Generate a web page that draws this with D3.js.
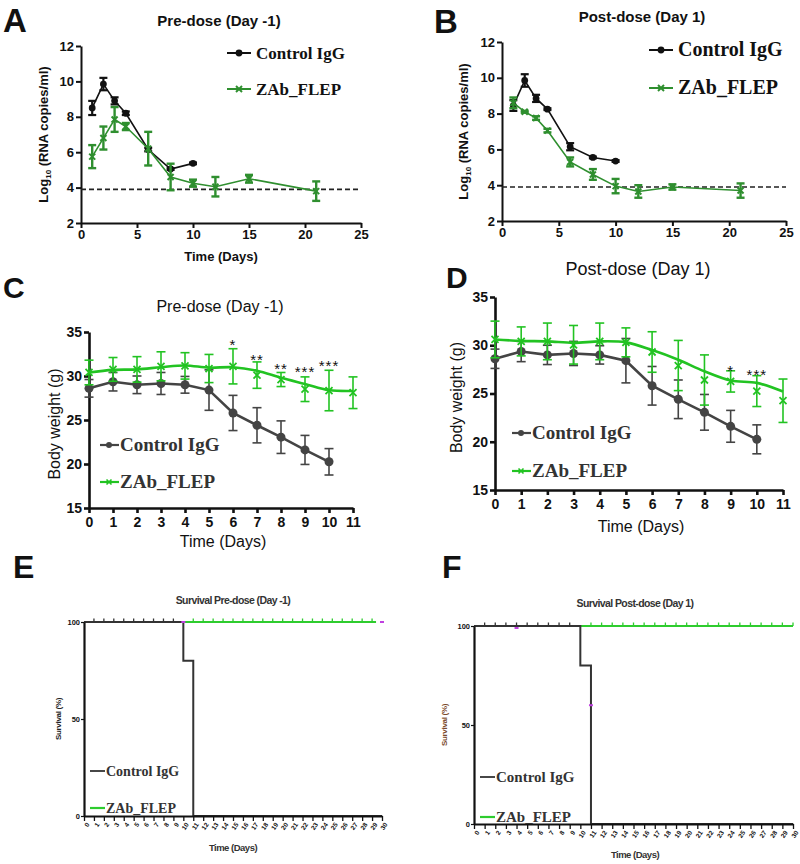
<!DOCTYPE html>
<html><head><meta charset="utf-8">
<script src="https://cdn.jsdelivr.net/npm/d3@7"></script>
<style>body{margin:0;background:#fff} svg{display:block;background:#fff} .serif{font-family:"Liberation Serif","Times New Roman","DejaVu Serif",serif !important;}</style>
</head><body><svg id="c" width="800" height="864"></svg>
<script>
// ---------- DATA ----------
// Viral load (Log10 RNA copies/ml)
const vlCtrlDays = [1, 2, 3, 4, 6, 8, 10];
const vlZabDays = [1, 2, 3, 4, 6, 8, 10, 12, 15, 21];
const vlCtrlPre = [8.5, 9.85, 8.9, 8.2, 6.15, 5.05, 5.37];
const vlCtrlPreErr = [0.4, 0.35, 0.2, 0.1, 0.1, 0.05, 0.05];
const vlZabPre = [5.75, 6.8, 7.85, 7.45, 6.2, 4.6, 4.25, 4.05, 4.5, 3.8];
const vlZabPreErr = [0.65, 0.65, 0.7, 0.2, 0.95, 0.75, 0.2, 0.55, 0.22, 0.55];
const vlCtrlPost = [8.45, 9.85, 8.85, 8.25, 6.15, 5.55, 5.35];
const vlCtrlPostErr = [0.3, 0.35, 0.2, 0.05, 0.2, 0.05, 0.05];
const vlZabPost = [8.6, 8.1, 7.75, 7.05, 5.3, 4.6, 3.95, 3.65, 3.9, 3.7];
const vlZabPostErr = [0.3, 0.05, 0.1, 0.1, 0.25, 0.3, 0.4, 0.35, 0.15, 0.4];
const vlLimit = 3.9;
const vlXTicks = [0, 5, 10, 15, 20, 25];
const vlYTicks = [2, 4, 6, 8, 10, 12];

// Body weight (g)
const bwDays = [0, 1, 2, 3, 4, 5, 6, 7, 8, 9, 10, 11];
const bwCtrlDays = [0, 1, 2, 3, 4, 5, 6, 7, 8, 9, 10];
const bwCtrl = [28.6, 29.35, 29.0, 29.15, 29.0, 28.4, 25.8, 24.4, 23.05, 21.6, 20.25];
const bwCtrlErr = [1.0, 1.05, 1.0, 1.25, 0.95, 2.3, 2.0, 2.0, 1.85, 1.65, 1.5];
const bwZabPre = [30.4, 30.75, 30.75, 31.1, 31.15, 30.85, 31.1, 30.1, 29.6, 28.5, 28.35, 28.1];
const bwZabPreErr = [1.4, 1.35, 1.45, 1.65, 1.5, 1.6, 2.0, 1.5, 0.8, 1.4, 2.3, 1.8];
const bwZabPreFit = [30.4, 30.7, 30.75, 31.0, 31.2, 30.95, 31.0, 30.6, 29.8, 29.1, 28.4, 28.3];
const bwZabPost = [30.6, 30.4, 30.4, 30.05, 30.4, 30.3, 29.3, 27.9, 26.4, 26.25, 25.25, 24.25];
const bwZabPostErr = [1.9, 1.5, 1.9, 2.0, 1.9, 1.5, 2.1, 2.6, 2.6, 1.1, 1.6, 2.25];
const bwZabPostFit = [30.6, 30.45, 30.4, 30.25, 30.4, 30.3, 29.5, 28.5, 27.3, 26.35, 26.1, 25.2];
const bwSigPreDays = [6, 7, 8, 9, 10];
const bwSigPreLabels = ["*", "**", "**", "***", "***"];
const bwSigPreY = [33.9, 32.2, 31.1, 30.75, 31.5];
const bwSigPostDays = [9, 10];
const bwSigPostLabels = ["*", "***"];
const bwSigPostY = [27.6, 27.2];
const bwYTicks = [15, 20, 25, 30, 35];

// Survival (%)
const survDays = d3.range(0, 31);
const survCtrlDays = [0, 10, 11, 30];
const survCtrlPct = [100, 80, 0, 0];
const survZabDaysE = [10, 29.4];
const survZabDaysF = [10, 30];
const survZabPct = [100, 100];
const survCtrlCensor = [1, 2, 3, 4, 5, 6, 7, 8, 9];
const survZabCensorE = [11, 12, 13, 14, 15, 16, 17, 18, 19, 20, 21, 22, 23, 24, 25, 26, 27, 28, 29];
const survZabCensorF = [11, 12, 13, 14, 15, 16, 17, 18, 19, 20, 21, 22, 23, 24, 25, 26, 27, 28, 29, 30];
const survMagentaE = [[10, 100], [30, 100]];
const survMagentaF = [[4, 99], [11, 60]];
const survYTicks = [0, 50, 100];

// ---------- DRAWING ----------
const SANS = "'Liberation Sans', Arial, sans-serif";
const svg = d3.select("#c");

function styleAxis(g, opts) {
  g.select(".domain").attr("stroke", "#111").attr("stroke-width", opts.lw);
  g.selectAll(".tick line").attr("stroke", "#111").attr("stroke-width", opts.lw);
  g.selectAll(".tick text").attr("fill", opts.color || "#111")
    .style("font-family", SANS).style("font-size", opts.fs + "px").style("font-weight", opts.fw || "bold");
}
function text(x, y, s, o) {
  const t = svg.append("text").attr("x", x).attr("y", y).text(s)
    .style("font-size", o.fs + "px")
    .style("font-weight", o.fw || "normal").attr("fill", o.fill || "#111")
    .attr("text-anchor", o.anchor || "middle");
  if (o.serif) t.attr("class", "serif"); else t.style("font-family", SANS);
  if (o.rot) t.attr("transform", `rotate(${o.rot},${x},${y})`);
  return t;
}
function xMark(g, cx, cy, s, color, w) {
  g.append("line").attr("x1", cx - s).attr("y1", cy - s).attr("x2", cx + s).attr("y2", cy + s).attr("stroke", color).attr("stroke-width", w);
  g.append("line").attr("x1", cx - s).attr("y1", cy + s).attr("x2", cx + s).attr("y2", cy - s).attr("stroke", color).attr("stroke-width", w);
}
function errBars(g, x, y, days, vals, errs, color, w, cap) {
  days.forEach((d, i) => {
    const cx = x(d), t = y(vals[i] + errs[i]), b = y(vals[i] - errs[i]);
    g.append("line").attr("x1", cx).attr("x2", cx).attr("y1", t).attr("y2", b).attr("stroke", color).attr("stroke-width", w);
    g.append("line").attr("x1", cx - cap).attr("x2", cx + cap).attr("y1", t).attr("y2", t).attr("stroke", color).attr("stroke-width", w);
    g.append("line").attr("x1", cx - cap).attr("x2", cx + cap).attr("y1", b).attr("y2", b).attr("stroke", color).attr("stroke-width", w);
  });
}

// ---- Viral load panels (A, B) ----
function vlPanel(p) {
  const x = d3.scaleLinear().domain([0, 25]).range([p.x0, p.x1]);
  const y = d3.scaleLinear().domain([2, 12]).range([p.y1, p.y0]);
  const g = svg.append("g");
  const ax = g.append("g").attr("transform", `translate(0,${p.y1})`)
    .call(d3.axisBottom(x).tickValues(vlXTicks).tickSize(5).tickSizeOuter(0).tickPadding(2));
  styleAxis(ax, { lw: 2, fs: 13 });
  const ay = g.append("g").attr("transform", `translate(${p.x0},0)`)
    .call(d3.axisLeft(y).tickValues(vlYTicks).tickSize(5).tickSizeOuter(0).tickPadding(2));
  styleAxis(ay, { lw: 2, fs: 13 });
  // limit of detection
  g.append("line").attr("x1", x(0)).attr("x2", x(25)).attr("y1", y(vlLimit)).attr("y2", y(vlLimit))
    .attr("stroke", "#222").attr("stroke-width", 1.6).attr("stroke-dasharray", "5,3");
  const cCol = "#111", gCol = "#2f8f2f";
  const line = d3.line().x(d => x(d[0])).y(d => y(d[1]));
  // control
  g.append("path").attr("d", line(vlCtrlDays.map((d, i) => [d, p.ctrl[i]]))).attr("fill", "none").attr("stroke", cCol).attr("stroke-width", 1.6);
  errBars(g, x, y, vlCtrlDays, p.ctrl, p.ctrlErr, cCol, 2.2, 4);
  vlCtrlDays.forEach((d, i) => g.append("circle").attr("cx", x(d)).attr("cy", y(p.ctrl[i])).attr("r", 3.4).attr("fill", cCol));
  // ZAb
  g.append("path").attr("d", line(vlZabDays.map((d, i) => [d, p.zab[i]]))).attr("fill", "none").attr("stroke", gCol).attr("stroke-width", 1.6);
  errBars(g, x, y, vlZabDays, p.zab, p.zabErr, gCol, 2.4, 4);
  vlZabDays.forEach((d, i) => xMark(g, x(d), y(p.zab[i]), 3, gCol, 2));
  // legend
  const lg = p.legend;
  g.append("line").attr("x1", lg.x).attr("x2", lg.x + 24).attr("y1", lg.y).attr("y2", lg.y).attr("stroke", cCol).attr("stroke-width", 2);
  g.append("circle").attr("cx", lg.x + 12).attr("cy", lg.y).attr("r", 3.4).attr("fill", cCol);
  text(lg.x + 29, lg.y + 6, "Control IgG", { serif: true, fs: lg.fs, fw: "bold", anchor: "start" });
  g.append("line").attr("x1", lg.x).attr("x2", lg.x + 24).attr("y1", lg.y + lg.dy).attr("y2", lg.y + lg.dy).attr("stroke", gCol).attr("stroke-width", 2);
  xMark(g, lg.x + 12, lg.y + lg.dy, 3, gCol, 2);
  text(lg.x + 29, lg.y + lg.dy + 6, "ZAb_FLEP", { serif: true, fs: lg.fs, fw: "bold", anchor: "start" });
  // titles & labels
  text((p.x0 + p.x1) / 2 - 2, p.titleY, p.title, { fs: 15, fw: "bold" });
  text(p.letterX, p.letterY, p.letter, { fs: 33, fw: "bold", anchor: "start" });
  const yl = svg.append("text").attr("transform", `translate(${p.ylX},${(p.y0 + p.y1) / 2}) rotate(-90)`)
    .attr("text-anchor", "middle").style("font-family", SANS).style("font-size", "13px").style("font-weight", "bold").attr("fill", "#111");
  yl.append("tspan").text("Log");
  yl.append("tspan").text("10").style("font-size", "8px").attr("dy", 3);
  yl.append("tspan").text(" (RNA copies/ml)").attr("dy", -3);
  if (p.xlabel) text((p.x0 + p.x1) / 2, p.y1 + 38, "Time (Days)", { fs: 13, fw: "bold" });
}
vlPanel({ x0: 81, x1: 361, y0: 46, y1: 223, ctrl: vlCtrlPre, ctrlErr: vlCtrlPreErr, zab: vlZabPre, zabErr: vlZabPreErr,
  legend: { x: 227, y: 53, dy: 36, fs: 17 }, title: "Pre-dose (Day -1)", titleY: 26, letter: "A", letterX: 3, letterY: 32, ylX: 48, xlabel: true });
vlPanel({ x0: 502, x1: 786, y0: 42, y1: 221, ctrl: vlCtrlPost, ctrlErr: vlCtrlPostErr, zab: vlZabPost, zabErr: vlZabPostErr,
  legend: { x: 649, y: 50, dy: 38, fs: 20 }, title: "Post-dose (Day 1)", titleY: 22, letter: "B", letterX: 434, letterY: 33, ylX: 468, xlabel: false });

// ---- Body weight panels (C, D) ----
function bwPanel(p) {
  const x = d3.scaleLinear().domain([0, 11]).range([p.x0, p.x1]);
  const y = d3.scaleLinear().domain([15, 35]).range([p.y1, p.y0]);
  const g = svg.append("g");
  const ax = g.append("g").attr("transform", `translate(0,${p.y1})`)
    .call(d3.axisBottom(x).tickValues(bwDays).tickSize(5).tickSizeOuter(0).tickPadding(4));
  styleAxis(ax, { lw: 2.6, fs: 14 });
  const ay = g.append("g").attr("transform", `translate(${p.x0},0)`)
    .call(d3.axisLeft(y).tickValues(bwYTicks).tickSize(5).tickSizeOuter(0).tickPadding(2));
  styleAxis(ay, { lw: 2.6, fs: 14 });
  const cCol = "#444", gCol = "#22c322";
  const lineFit = d3.line().curve(d3.curveCatmullRom).x(d => x(d[0])).y(d => y(d[1]));
  const line = d3.line().x(d => x(d[0])).y(d => y(d[1]));
  // control
  errBars(g, x, y, bwCtrlDays, bwCtrl, bwCtrlErr, cCol, 1.6, 4.5);
  g.append("path").attr("d", line(bwCtrlDays.map((d, i) => [d, bwCtrl[i]]))).attr("fill", "none").attr("stroke", cCol).attr("stroke-width", 2.6);
  bwCtrlDays.forEach((d, i) => g.append("circle").attr("cx", x(d)).attr("cy", y(bwCtrl[i])).attr("r", 4.5).attr("fill", cCol));
  // ZAb
  errBars(g, x, y, bwDays, p.zab, p.zabErr, gCol, 1.6, 4.5);
  g.append("path").attr("d", lineFit(bwDays.map((d, i) => [d, p.fit[i]]))).attr("fill", "none").attr("stroke", gCol).attr("stroke-width", 2.6);
  bwDays.forEach((d, i) => xMark(g, x(d), y(p.zab[i]), 3.5, gCol, 1.8));
  // significance
  p.sigDays.forEach((d, i) => text(x(d), y(p.sigY[i]) + 8, p.sigLabels[i], { fs: 15, fill: "#111" }).attr("letter-spacing", "1px"));
  // legend
  const lg = p.legend;
  g.append("line").attr("x1", lg.x).attr("x2", lg.x + 19).attr("y1", lg.y).attr("y2", lg.y).attr("stroke", cCol).attr("stroke-width", 2.2);
  g.append("circle").attr("cx", lg.x + 9).attr("cy", lg.y).attr("r", 3).attr("fill", cCol);
  text(lg.x + 20, lg.y + 6, "Control IgG", { serif: true, fs: 19, fw: "bold", anchor: "start", fill: "#333" });
  g.append("line").attr("x1", lg.x).attr("x2", lg.x + 19).attr("y1", lg.y + lg.dy).attr("y2", lg.y + lg.dy).attr("stroke", gCol).attr("stroke-width", 2.2);
  xMark(g, lg.x + 9, lg.y + lg.dy, 2.5, gCol, 1.6);
  text(lg.x + 20, lg.y + lg.dy + 6, "ZAb_FLEP", { serif: true, fs: 19, fw: "bold", anchor: "start", fill: "#333" });
  // labels
  text(p.titleX, p.titleY, p.title, { fs: p.titleFs });
  text(p.letterX, p.letterY, p.letter, { fs: 30, fw: "bold", anchor: "start" });
  text(p.ylX, (p.y0 + p.y1) / 2 + 4, "Body weight (g)", { fs: 16, rot: -90 });
  text((p.x0 + p.x1) / 2 + 2, p.xlY, "Time (Days)", { fs: 16 });
}
bwPanel({ x0: 89, x1: 353, y0: 332, y1: 508, zab: bwZabPre, zabErr: bwZabPreErr, fit: bwZabPreFit,
  sigDays: bwSigPreDays, sigLabels: bwSigPreLabels, sigY: bwSigPreY,
  legend: { x: 100, y: 445, dy: 37 }, title: "Pre-dose (Day -1)", titleX: 220, titleY: 312, titleFs: 16,
  letter: "C", letterX: 3, letterY: 298, ylX: 60, xlY: 547 });
bwPanel({ x0: 495, x1: 783, y0: 297, y1: 490, zab: bwZabPost, zabErr: bwZabPostErr, fit: bwZabPostFit,
  sigDays: bwSigPostDays, sigLabels: bwSigPostLabels, sigY: bwSigPostY,
  legend: { x: 512, y: 433, dy: 38 }, title: "Post-dose (Day 1)", titleX: 638, titleY: 275, titleFs: 18,
  letter: "D", letterX: 446, letterY: 288, ylX: 462, xlY: 532 });

// ---- Survival panels (E, F) ----
function survPanel(p) {
  const x = d3.scaleLinear().domain([0, 30]).range([p.x0, p.x1]);
  const y = d3.scaleLinear().domain([0, 100]).range([p.y1, p.y0]);
  const g = svg.append("g");
  const cCol = "#333", gCol = "#2ecc2e";
  const step = d3.line().curve(d3.curveStepAfter).x(d => x(d[0])).y(d => y(d[1]));
  // ZAb
  g.append("path").attr("d", step(p.zabDays.map((d, i) => [d, survZabPct[i]]))).attr("fill", "none").attr("stroke", gCol).attr("stroke-width", 2);
  p.zabCensor.forEach(d => g.append("line").attr("x1", x(d)).attr("x2", x(d)).attr("y1", y(100)).attr("y2", y(100) - 3.5).attr("stroke", gCol).attr("stroke-width", 1.3));
  // control
  g.append("path").attr("d", step(survCtrlDays.map((d, i) => [d, survCtrlPct[i]]))).attr("fill", "none").attr("stroke", cCol).attr("stroke-width", 2);
  survCtrlCensor.forEach(d => g.append("line").attr("x1", x(d)).attr("x2", x(d)).attr("y1", y(100)).attr("y2", y(100) - 3.5).attr("stroke", cCol).attr("stroke-width", 1.3));
  p.magenta.forEach(m => g.append("line").attr("x1", x(m[0]) - 2).attr("x2", x(m[0]) + 2).attr("y1", y(m[1])).attr("y2", y(m[1])).attr("stroke", "#c040e0").attr("stroke-width", 2));
  // axes
  const ax = g.append("g").attr("transform", `translate(0,${p.y1})`)
    .call(d3.axisBottom(x).tickValues(survDays).tickSize(5).tickSizeOuter(0).tickPadding(3));
  styleAxis(ax, { lw: 2.2, fs: 6.5 });
  ax.selectAll(".tick line").attr("stroke-width", 1.3);
  ax.selectAll(".tick text").attr("text-anchor", "end").attr("dy", "0.3em").attr("dx", "-0.1em")
    .attr("transform", "translate(0,4) rotate(-55)").attr("y", 5);
  const ay = g.append("g").attr("transform", `translate(${p.x0},0)`)
    .call(d3.axisLeft(y).tickValues(survYTicks).tickSize(3).tickSizeOuter(0).tickPadding(1));
  styleAxis(ay, { lw: 2.2, fs: 7.5 });
  ay.selectAll(".tick line").attr("stroke-width", 1.2);
  // legend
  const lg = p.legend;
  g.append("line").attr("x1", lg.x).attr("x2", lg.x + 15).attr("y1", lg.y).attr("y2", lg.y).attr("stroke", cCol).attr("stroke-width", 1.8);
  text(lg.x + 16, lg.y + 5, "Control IgG", { serif: true, fs: p.lfs, fw: "bold", anchor: "start", fill: "#333" });
  g.append("line").attr("x1", lg.x).attr("x2", lg.x + 15).attr("y1", lg.y + lg.dy).attr("y2", lg.y + lg.dy).attr("stroke", gCol).attr("stroke-width", 2.2);
  text(lg.x + 16, lg.y + lg.dy + 5, "ZAb_FLEP", { serif: true, fs: p.lfs, fw: "bold", anchor: "start", fill: "#333" });
  // labels
  text(p.titleX, p.titleY, p.title, { fs: 10.5, fw: "bold", fill: "#333" }).attr("letter-spacing", "-0.6px");
  text(p.letterX, p.letterY, p.letter, { fs: 32, fw: "bold", anchor: "start" });
  text(p.ylX, (p.y0 + p.y1) / 2, "Survival (%)", { fs: 8, fw: "bold", rot: -90, fill: p.ylCol }).attr("letter-spacing", "-0.3px");
  text(p.titleX, p.xlY, "Time (Days)", { fs: 9.5, fw: "bold", fill: "#333" }).attr("letter-spacing", "-0.5px");
}
survPanel({ x0: 84, x1: 382, y0: 622, y1: 816, zabDays: survZabDaysE, zabCensor: survZabCensorE, magenta: survMagentaE,
  legend: { x: 90, y: 771, dy: 37 }, lfs: 14, title: "Survival Pre-dose (Day -1)", titleX: 233, titleY: 604,
  letter: "E", letterX: 13, letterY: 578, ylX: 61, ylCol: "#222", xlY: 851 });
survPanel({ x0: 474, x1: 793, y0: 626, y1: 824, zabDays: survZabDaysF, zabCensor: survZabCensorF, magenta: survMagentaF,
  legend: { x: 480, y: 777, dy: 40 }, lfs: 15, title: "Survival Post-dose (Day 1)", titleX: 635, titleY: 607,
  letter: "F", letterX: 442, letterY: 578, ylX: 447, ylCol: "#7a4a2a", xlY: 858 });
</script></body></html>
